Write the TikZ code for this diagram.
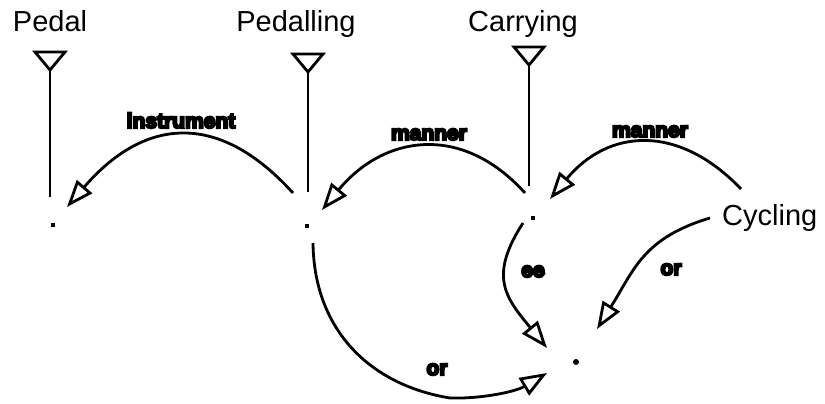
\documentclass[tikz,border=0pt]{standalone}
\usepackage{fontspec}
\setmainfont{Liberation Sans}
\newfontfamily\relfont{Liberation Sans Bold}[FakeBold=10]
\usetikzlibrary{arrows.meta}
\begin{document}
\begin{tikzpicture}[x=1pt,y=-1pt,
  word/.style={font=\fontsize{29}{33}\selectfont, inner sep=0pt, anchor=base},
  rel/.style={font=\fontsize{21}{25}\relfont, inner sep=0pt, anchor=base},
  stem/.style={line width=2.8pt, line join=miter},
  link/.style={line width=2.8pt, -{Triangle[open,length=27pt,width=20pt]}},
  dotsmall/.style={fill, rectangle, inner sep=0pt, minimum size=3.5pt},
  dotbig/.style={fill, circle, inner sep=0pt, minimum size=6pt}]
\useasboundingbox (0,0) rectangle (825,404);

% words
\node[word] (pedal) at (50,32) {Pedal};
\node[word] (pedalling) at (296,32) {Pedalling};
\node[word] (carrying) at (523,32) {Carrying};
\node[word, anchor=base west] (cycling) at (722,225) {Cycling};

% stems
\coordinate (pedalTop) at (50,70);
\coordinate (pedalBot) at (50,197);
\coordinate (pedallingTop) at (308,72);
\coordinate (pedallingBot) at (308,192);
\coordinate (carryingTop) at (529,65);
\coordinate (carryingBot) at (529,186);
\foreach \s in {pedal,pedalling,carrying}{
  \draw[stem] (\s Top) -- ++(-15,-18) -- ++(30,0) -- cycle;
  \draw[stem] (\s Top) -- (\s Bot);
}

% dots
\node[dotsmall] (dPedal) at (53,225) {};
\node[dotsmall] (dPedalling) at (307,226) {};
\node[dotsmall] (dCarrying) at (533,218) {};
\node[dotbig] (dBottom) at (576,362) {};

% connector end points
\coordinate (instS) at (293,193);
\coordinate (instE) at (67,207);
\coordinate (man1S) at (525,193);
\coordinate (man1E) at (322,210);
\coordinate (man2S) at (741,189);
\coordinate (man2E) at (550,199);
\coordinate (eeS) at (523,223);
\coordinate (eeE) at (547,348);
\coordinate (or1S) at (710,218);
\coordinate (or1E) at (597,329);
\coordinate (or2S) at (313,243);
\coordinate (or2M) at (450,398);
\coordinate (or2E) at (547,373);

% connectors
\draw[link] (instS) .. controls (216,108) and (142,120) .. (instE);
\draw[link] (man1S) .. controls (461,122) and (383,136) .. (man1E);
\draw[link] (man2S) .. controls (678,123) and (608,129) .. (man2E);
\draw[link] (eeS) .. controls (488,277) and (506,298) .. (eeE);
\draw[link] (or1S) .. controls (643,238) and (634,270) .. (or1E);
\draw[link] (or2S) .. controls (314,330) and (370,385) .. (or2M)
  .. controls (480,399) and (515,392) .. (or2E);

% relation labels
\node[rel] (lInst) at (181,128) {instrument};
\node[rel] (lMan1) at (429,140) {manner};
\node[rel] (lMan2) at (650,137) {manner};
\node[rel] (lEe) at (533,277) {ee};
\node[rel] (lOr1) at (671,275) {or};
\node[rel] (lOr2) at (437,375) {or};
\end{tikzpicture}
\end{document}
